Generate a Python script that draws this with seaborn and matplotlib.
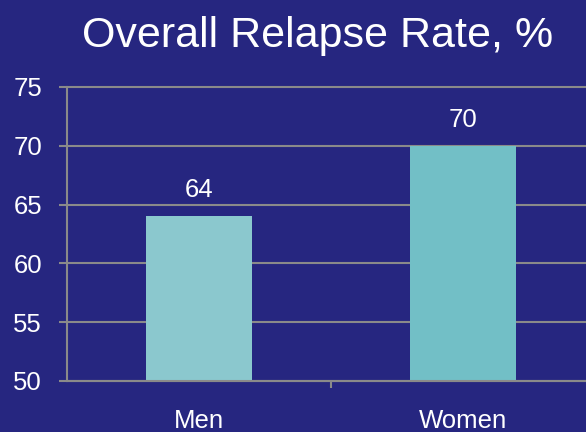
import matplotlib
matplotlib.use("Agg")
import matplotlib.pyplot as plt
import seaborn as sns
import pandas as pd
from matplotlib.ticker import FixedLocator

categories = ["Men", "Women"]
values = [64, 70]
yticks = [50, 55, 60, 65, 70, 75]

bg = "#262680"
bar_colors = ["#8BC8CE", "#72BFC6"]
grid_c = "#8A8A8A"

sns.set_style("white")
plt.rcParams["font.family"] = ["Liberation Sans", "DejaVu Sans"]

fig = plt.figure(figsize=(5.86, 4.32), dpi=100, facecolor=bg)
ax = fig.add_axes([67/586, 51/432, (595-67)/586, 294/432])
ax.set_facecolor(bg)

df = pd.DataFrame({"cat": categories, "val": values})
sns.barplot(data=df, x="cat", y="val", hue="cat", palette=bar_colors,
            width=0.4, legend=False, ax=ax, saturation=1, linewidth=0, edgecolor="none")

ax.set_xlim(-0.5, 1.5)
ax.set_ylim(50, 75)
ax.set_yticks(yticks)
ax.set_yticklabels([str(t) for t in yticks])
ax.yaxis.grid(True, color=grid_c, linewidth=1.5)
for gl in ax.get_ygridlines():
    gl.set_clip_on(False)
ax.set_axisbelow(True)
for s in ["top", "right"]:
    ax.spines[s].set_visible(False)
for s in ["left", "bottom"]:
    ax.spines[s].set_color(grid_c)
    ax.spines[s].set_linewidth(1.5)

ax.tick_params(axis="y", colors=grid_c, labelcolor="white", labelsize=18.5,
               length=6, width=1.5, pad=12, left=True)
ax.tick_params(axis="x", which="major", length=0, labelcolor="white",
               labelsize=18.5, pad=20)
ax.xaxis.set_minor_locator(FixedLocator([0.5]))
ax.tick_params(axis="x", which="minor", length=5, width=1.5, color=grid_c, bottom=True)
ax.set_xlabel("")
ax.set_ylabel("")

for i, v in enumerate(values):
    ax.text(i, v + 1.2, str(v), ha="center", va="bottom", color="white", fontsize=18.5)

fig.text(318/586, 1 - 36/432, "Overall Relapse Rate, %", ha="center", va="center",
         color="white", fontsize=31)

fig.savefig("out.png", dpi=100, facecolor=bg)
